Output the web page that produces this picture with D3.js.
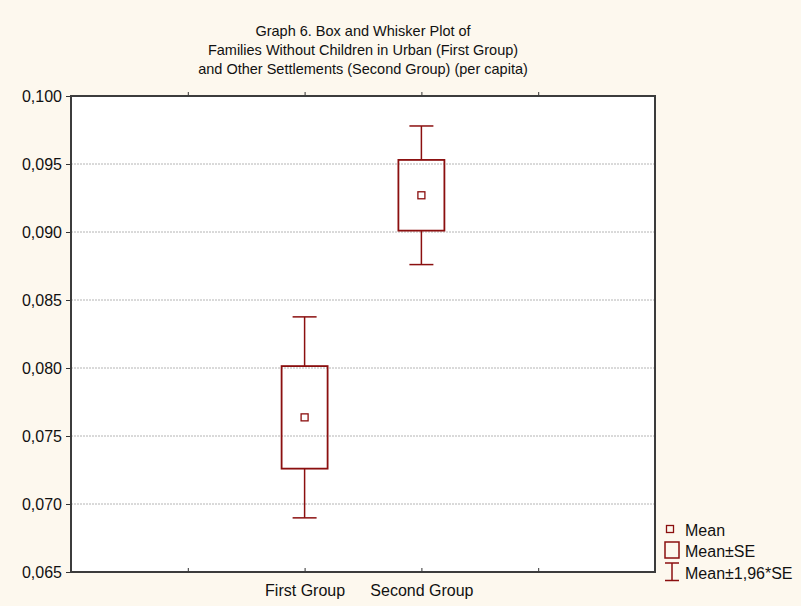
<!DOCTYPE html>
<html>
<head>
<meta charset="utf-8">
<script src="https://cdn.jsdelivr.net/npm/d3@7"></script>
<style>
  html, body { margin: 0; padding: 0; background: #fdf8ee; }
  svg { display: block; }
  text { font-family: "Liberation Sans", Arial, sans-serif; fill: #111; }
</style>
</head>
<body>
<svg id="chart" width="801" height="606"></svg>
<script>
// Group statistics (per capita)
const groups = ["First Group", "Second Group"];
const means = [0.07637, 0.0927];
const stdErrors = [0.00377, 0.0026];
const seMultiplier = 1.96;

// Axis ticks
const yTicks = [0.065, 0.070, 0.075, 0.080, 0.085, 0.090, 0.095, 0.100];
const xTickPositions = [0, 1, 2, 3];

const titleLines = [
  "Graph 6. Box and Whisker Plot of",
  "Families Without Children in Urban (First Group)",
  "and Other Settlements (Second Group) (per capita)"
];
const legendLabels = ["Mean", "Mean\u00B1SE", "Mean\u00B11,96*SE"];

const W = 801, H = 606;
const plot = { left: 71, top: 96, right: 655, bottom: 572 };
const boxColor = "#8b0f0f";

const svg = d3.select("#chart");

svg.append("rect").attr("x", 0).attr("y", 0).attr("width", W).attr("height", H).attr("fill", "#fdf8ee");
svg.append("rect")
  .attr("x", plot.left).attr("y", plot.top)
  .attr("width", plot.right - plot.left).attr("height", plot.bottom - plot.top)
  .attr("fill", "#ffffff");

const x = d3.scaleLinear().domain([-1, 4]).range([plot.left, plot.right]);
const y = d3.scaleLinear().domain([0.065, 0.100]).range([plot.bottom, plot.top]);
const fmt = v => d3.format(".3f")(v).replace(".", ",");

// Horizontal grid lines
svg.append("g")
  .selectAll("line")
  .data(yTicks.filter(v => v > 0.065 + 1e-9 && v < 0.100 - 1e-9))
  .join("line")
  .attr("x1", plot.left).attr("x2", plot.right)
  .attr("y1", d => y(d)).attr("y2", d => y(d))
  .attr("stroke", "#b4b4b4").attr("stroke-width", 1)
  .attr("stroke-dasharray", "2,1");

// Left axis
const yAxis = d3.axisLeft(y).tickValues(yTicks).tickFormat(fmt).tickSize(5).tickPadding(4);
const gy = svg.append("g").attr("transform", `translate(${plot.left},0)`).call(yAxis);
gy.select(".domain").remove();
gy.selectAll(".tick line").attr("stroke", "#333");
gy.selectAll(".tick text").attr("font-size", 16).attr("font-family", "Liberation Sans, Arial, sans-serif").attr("fill", "#111");

// Bottom axis with category labels
const xAxis = d3.axisBottom(x).tickValues(xTickPositions)
  .tickFormat(d => groups[d - 1] || "").tickSize(-4).tickPadding(13);
const gx = svg.append("g").attr("transform", `translate(0,${plot.bottom})`).call(xAxis);
gx.select(".domain").remove();
gx.selectAll(".tick line").attr("stroke", "#333");
gx.selectAll(".tick text").attr("font-size", 16).attr("font-family", "Liberation Sans, Arial, sans-serif").attr("fill", "#111");

// Top axis ticks
const xTop = d3.axisTop(x).tickValues(xTickPositions).tickFormat("").tickSize(4);
const gt = svg.append("g").attr("transform", `translate(0,${plot.top})`).call(xTop);
gt.select(".domain").remove();
gt.selectAll(".tick line").attr("stroke", "#333");

// Plot frame
svg.append("rect")
  .attr("x", plot.left).attr("y", plot.top)
  .attr("width", plot.right - plot.left).attr("height", plot.bottom - plot.top)
  .attr("fill", "none").attr("stroke", "#3c3c3c").attr("stroke-width", 2);

// Box and whisker marks
const stats = groups.map((g, i) => ({
  pos: i + 1,
  mean: means[i],
  lo: means[i] - stdErrors[i],
  hi: means[i] + stdErrors[i],
  wLo: means[i] - seMultiplier * stdErrors[i],
  wHi: means[i] + seMultiplier * stdErrors[i]
}));

const boxW = 46, capW = 24, meanSize = 7;
const marks = svg.append("g").selectAll("g").data(stats).join("g");

marks.append("line")
  .attr("x1", d => x(d.pos)).attr("x2", d => x(d.pos))
  .attr("y1", d => y(d.wHi)).attr("y2", d => y(d.hi))
  .attr("stroke", boxColor).attr("stroke-width", 1.5);
marks.append("line")
  .attr("x1", d => x(d.pos)).attr("x2", d => x(d.pos))
  .attr("y1", d => y(d.lo)).attr("y2", d => y(d.wLo))
  .attr("stroke", boxColor).attr("stroke-width", 1.5);
marks.append("line")
  .attr("x1", d => x(d.pos) - capW / 2).attr("x2", d => x(d.pos) + capW / 2)
  .attr("y1", d => y(d.wHi)).attr("y2", d => y(d.wHi))
  .attr("stroke", boxColor).attr("stroke-width", 1.5);
marks.append("line")
  .attr("x1", d => x(d.pos) - capW / 2).attr("x2", d => x(d.pos) + capW / 2)
  .attr("y1", d => y(d.wLo)).attr("y2", d => y(d.wLo))
  .attr("stroke", boxColor).attr("stroke-width", 1.5);
marks.append("rect")
  .attr("x", d => x(d.pos) - boxW / 2).attr("width", boxW)
  .attr("y", d => y(d.hi)).attr("height", d => y(d.lo) - y(d.hi))
  .attr("fill", "none").attr("stroke", boxColor).attr("stroke-width", 1.8);
marks.append("rect")
  .attr("x", d => x(d.pos) - meanSize / 2).attr("width", meanSize)
  .attr("y", d => y(d.mean) - meanSize / 2).attr("height", meanSize)
  .attr("fill", "none").attr("stroke", boxColor).attr("stroke-width", 1.3);

// Title
svg.append("g").selectAll("text").data(titleLines).join("text")
  .attr("x", 363).attr("y", (d, i) => 36 + i * 19)
  .attr("text-anchor", "middle").attr("font-size", 14.5)
  .text(d => d);

// Legend
const lg = svg.append("g");
lg.append("rect").attr("x", 666.5).attr("y", 525.5).attr("width", 7).attr("height", 7)
  .attr("fill", "none").attr("stroke", boxColor).attr("stroke-width", 1.3);
lg.append("rect").attr("x", 665).attr("y", 542).attr("width", 14).attr("height", 16)
  .attr("fill", "none").attr("stroke", boxColor).attr("stroke-width", 1.5);
lg.append("line").attr("x1", 665).attr("x2", 679).attr("y1", 563).attr("y2", 563)
  .attr("stroke", boxColor).attr("stroke-width", 1.5);
lg.append("line").attr("x1", 665).attr("x2", 679).attr("y1", 580.5).attr("y2", 580.5)
  .attr("stroke", boxColor).attr("stroke-width", 1.5);
lg.append("line").attr("x1", 672).attr("x2", 672).attr("y1", 563).attr("y2", 580.5)
  .attr("stroke", boxColor).attr("stroke-width", 1.5);
lg.selectAll("text").data(legendLabels).join("text")
  .attr("x", 685).attr("y", (d, i) => 535.5 + i * 21.5)
  .attr("font-size", 16).text(d => d);
</script>
</body>
</html>
